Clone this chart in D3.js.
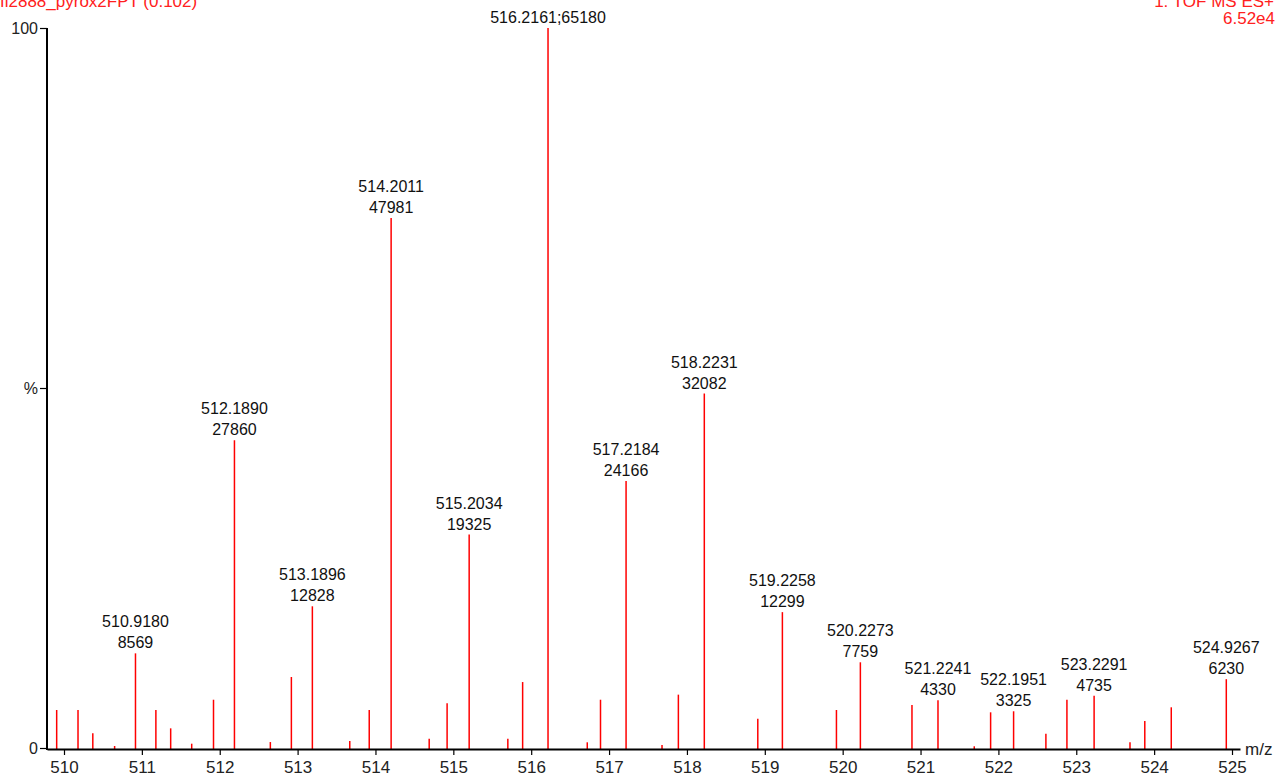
<!DOCTYPE html>
<html><head><meta charset="utf-8">
<script src="https://cdn.jsdelivr.net/npm/d3@7"></script>
<style>body{margin:0;background:#fff;overflow:hidden}text{font-family:"Liberation Sans",Arial,sans-serif}</style>
</head><body><svg id="c" width="1278" height="775"></svg>
<script>
// ---- data ----
const labeledMz = [510.9180, 512.1890, 513.1896, 514.2011, 515.2034, 516.2161, 517.2184, 518.2231, 519.2258, 520.2273, 521.2241, 522.1951, 523.2291, 524.9267];
const labeledIntensity = [8569, 27860, 12828, 47981, 19325, 65180, 24166, 32082, 12299, 7759, 4330, 3325, 4735, 6230];
const minorMz = [509.906, 510.18, 510.37, 510.65, 511.18, 511.37, 511.64, 511.92, 512.65, 512.92, 513.67, 513.92, 514.69, 514.92, 515.70, 515.89, 516.72, 516.89, 517.68, 517.89, 518.91, 519.92, 520.89, 521.69, 521.90, 522.61, 522.88, 523.69, 523.88, 524.22];
const minorIntensity = [3440, 3440, 1330, 180, 3440, 1780, 390, 4370, 540, 6430, 630, 3440, 840, 4050, 840, 5970, 515, 4370, 270, 4830, 2650, 3440, 3890, 155, 3230, 1295, 4370, 515, 2445, 3685];
const basePeak = 65180;
const xTickValues = [510, 511, 512, 513, 514, 515, 516, 517, 518, 519, 520, 521, 522, 523, 524, 525];
const yTickValues = [0, 50, 100];
const yTickLabels = ["0", "%", "100"];
const titleLeft = "fi2888_pyrox2FPT (0.102)";
const titleRight = "1: TOF MS ES+";
const scaleLabel = "6.52e4";
const xAxisLabel = "m/z";

// ---- chart ----
const svg = d3.select("#c");
const x = d3.scaleLinear().domain([509.7817, 525.1027]).range([47, 1240]);
const y = d3.scaleLinear().domain([0, 100]).range([748, 28]);
const pct = v => v / basePeak * 100;

// peaks
const peaks = labeledMz.map((m, i) => ({mz: m, v: labeledIntensity[i], lab: true}))
  .concat(minorMz.map((m, i) => ({mz: m, v: minorIntensity[i], lab: false})));
svg.append("g").selectAll("line").data(peaks).join("line")
  .attr("x1", d => x(d.mz)).attr("x2", d => x(d.mz))
  .attr("y1", y(0) + 1).attr("y2", d => y(pct(d.v)))
  .attr("stroke", "#ff0000").attr("stroke-width", 1.5);

// labels
const lg = svg.append("g").attr("fill", "#111").attr("font-size", "16px").attr("text-anchor", "middle");
labeledMz.forEach((m, i) => {
  const v = labeledIntensity[i];
  const top = y(pct(v));
  if (v === basePeak) {
    lg.append("text").attr("x", x(m)).attr("y", top - 5).text(m.toFixed(4) + ";" + v);
  } else {
    lg.append("text").attr("x", x(m)).attr("y", top - 26).text(m.toFixed(4));
    lg.append("text").attr("x", x(m)).attr("y", top - 5).text(v);
  }
});

// x axis
const xa = svg.append("g").attr("transform", "translate(0,749)")
  .call(d3.axisBottom(x).tickValues(xTickValues).tickFormat(d3.format("d")).tickSize(6).tickSizeOuter(0));
xa.select(".domain").attr("stroke", "#000").attr("stroke-width", 2);
xa.selectAll(".tick line").attr("stroke", "#000").attr("stroke-width", 1.2);
xa.selectAll(".tick text").attr("font-size", "17px").attr("fill", "#222")
  .attr("font-family", '"Liberation Sans",Arial,sans-serif').attr("dy", null).attr("y", 23.5);

svg.append("text").attr("x", 1245).attr("y", 755).attr("font-size", "17px").attr("fill", "#222").text(xAxisLabel);

// y axis
const ya = svg.append("g").attr("transform", "translate(47,0)")
  .call(d3.axisLeft(y).tickValues(yTickValues).tickFormat((d, i) => yTickLabels[i]).tickSize(7).tickSizeOuter(0));
ya.select(".domain").attr("stroke", "#000").attr("stroke-width", 2)
  .attr("d", `M0,${y(100)}V${y(0) + 2}`);
ya.selectAll(".tick line").attr("stroke", "#000").attr("stroke-width", 1.2);
ya.selectAll(".tick text").attr("font-size", "16px").attr("fill", "#222")
  .attr("font-family", '"Liberation Sans",Arial,sans-serif').attr("x", -9);

// titles
svg.append("text").attr("x", 0).attr("y", 6.5).attr("font-size", "17px").attr("fill", "#ff2020").text(titleLeft);
svg.append("text").attr("x", 1274).attr("y", 6.5).attr("font-size", "17px").attr("fill", "#ff2020").attr("text-anchor", "end").text(titleRight);
svg.append("text").attr("x", 1275).attr("y", 23.5).attr("font-size", "17px").attr("fill", "#ff2020").attr("text-anchor", "end").text(scaleLabel);
</script></body></html>
